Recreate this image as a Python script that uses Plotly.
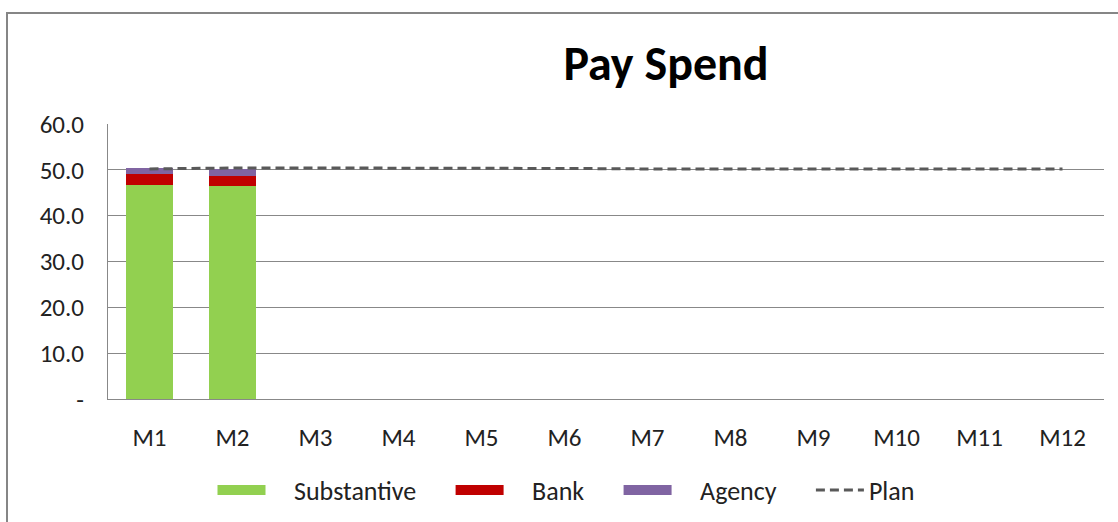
import plotly.graph_objects as go

months = ["M1", "M2", "M3", "M4", "M5", "M6", "M7", "M8", "M9", "M10", "M11", "M12"]
substantive = [46.8, 46.5]
bank = [2.2, 2.2]
agency = [1.4, 1.4]
plan = [50.2, 50.4, 50.4, 50.4, 50.4, 50.3, 50.2, 50.2, 50.2, 50.2, 50.2, 50.2]
y_ticks = [0, 10, 20, 30, 40, 50, 60]
y_tick_labels = ["-", "10.0", "20.0", "30.0", "40.0", "50.0", "60.0"]

FONT = "Carlito, Lato, 'Open Sans', sans-serif"
C_SUB, C_BANK, C_AG, C_PLAN = "#92D050", "#C00000", "#8064A2", "#595959"
NB = "\u00a0"

fig = go.Figure()
for name, vals, col in [("Substantive", substantive, C_SUB), ("Bank", bank, C_BANK), ("Agency", agency, C_AG)]:
    fig.add_trace(go.Bar(x=months[:len(vals)], y=vals, name=name, legendgroup=name, showlegend=False,
                         marker=dict(color=col, line=dict(width=0))))
fig.add_trace(go.Scatter(x=months, y=plan, name="Plan", mode="lines", showlegend=False, legendgroup="Plan",
                         line=dict(color=C_PLAN, width=3, dash="9px,5px")))
# legend entries (long swatches like the original)
for name, label, col, w, dash in [
        ("Substantive", NB * 4 + "Substantive" + NB * 5, C_SUB, 12, "solid"),
        ("Bank", NB * 4 + "Bank" + NB * 5, C_BANK, 12, "solid"),
        ("Agency", NB * 4 + "Agency" + NB * 5, C_AG, 12, "solid"),
        ("Plan", "Plan", C_PLAN, 3, "9px,5px")]:
    fig.add_trace(go.Scatter(x=[None], y=[None], name=label, legendgroup=name, mode="lines",
                             line=dict(color=col, width=w, dash=dash)))

L, R, T, B = 108, 14, 124, 123
W, H = 1118, 522
pw, ph = W - L - R, H - T - B

def px_x(x):
    return (x - L) / pw

def px_y(y):
    return (H - B - y) / ph

fig.update_layout(
    width=W, height=H,
    margin=dict(l=L, r=R, t=T, b=B, autoexpand=False),
    barmode="stack",
    bargap=0.43,
    paper_bgcolor="white",
    plot_bgcolor="white",
    font=dict(family=FONT, color="#222222", size=25),
    title=dict(text="<b>Pay Spend</b>", x=px_x(666), xref="paper", xanchor="center",
               y=1 - 63 / H, yanchor="middle", yref="container",
               font=dict(size=48, color="#000000", family=FONT)),
    showlegend=True,
    legend=dict(orientation="h", x=px_x(566), xanchor="center", y=px_y(490), yanchor="middle",
                font=dict(size=26, family=FONT, color="#222222"), traceorder="normal",
                itemwidth=48),
    xaxis=dict(type="category", categoryorder="array", categoryarray=months,
               range=[-0.5, 11.5], showgrid=False, showline=True, linecolor="#888888",
               linewidth=1, ticks="", ticklabelstandoff=16, tickfont=dict(size=25), automargin=False),
    yaxis=dict(range=[0, 60], tickvals=y_ticks, ticktext=y_tick_labels,
               showgrid=True, gridcolor="#888888", gridwidth=1,
               showline=True, linecolor="#888888", linewidth=1, zeroline=False,
               ticks="", ticklabelstandoff=18, tickfont=dict(size=25), automargin=False),
    shapes=[dict(type="rect", xref="paper", yref="paper",
                 x0=px_x(7), x1=px_x(1130), y0=px_y(535), y1=px_y(13),
                 line=dict(color="#868686", width=2), fillcolor="rgba(0,0,0,0)", layer="below")],
)

fig.write_html("out.html")
